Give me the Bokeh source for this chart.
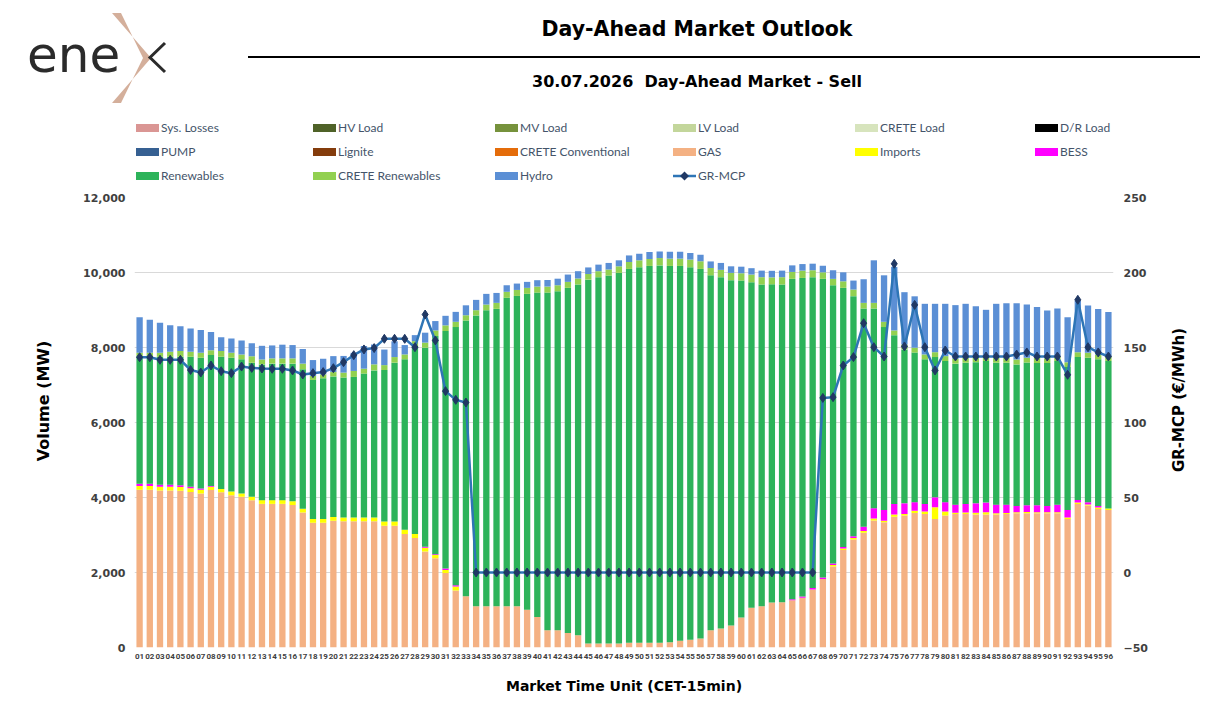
from bokeh.plotting import figure
from bokeh.models import (ColumnDataSource, FactorRange, Range1d, LinearAxis, FixedTicker,
                          NumeralTickFormatter, Div)
from bokeh.layouts import column, row
from bokeh.embed import file_html
from bokeh.resources import INLINE

# ---------------- data ----------------
mtu = ["%02d" % i for i in range(1, 97)]

sys_losses = [0] * 96
hv_load = [0] * 96
mv_load = [0] * 96
lv_load = [0] * 96
crete_load = [0] * 96
dr_load = [0] * 96
pump = [0] * 96
lignite = [0] * 96
crete_conv = [0] * 96

gas = [4210, 4210, 4190, 4190, 4180, 4150, 4110, 4200, 4140, 4060, 4020, 3930,
       3830, 3830, 3830, 3800, 3600, 3330, 3330, 3380, 3370, 3370, 3370, 3370,
       3250, 3250, 3030, 2920, 2560, 2380, 1990, 1520, 1365, 1100, 1100, 1100,
       1100, 1100, 1010, 815, 460, 460, 390, 330, 110, 110, 110, 110,
       125, 125, 125, 125, 140, 180, 210, 240, 460, 505, 590, 800,
       1060, 1100, 1200, 1210, 1260, 1330, 1550, 1830, 2160, 2600, 2880, 3060,
       3390, 3340, 3490, 3520, 3590, 3560, 3430, 3520, 3560, 3560, 3545, 3545,
       3545, 3560, 3580, 3580, 3580, 3580, 3580, 3430, 3830, 3785, 3695, 3670]

imports = [100, 100, 100, 100, 100, 100, 100, 90, 90, 100, 90, 90,
           100, 100, 100, 100, 100, 100, 100, 100, 100, 100, 100, 100,
           110, 110, 110, 110, 100, 90, 80, 110, 0, 0, 0, 0,
           0, 0, 0, 0, 0, 0, 0, 0, 0, 0, 0, 0,
           0, 0, 0, 0, 0, 0, 0, 0, 0, 0, 0, 0,
           0, 0, 0, 0, 0, 0, 0, 0, 40, 40, 40, 50,
           50, 40, 55, 40, 60, 70, 310, 110, 35, 40, 50, 60,
           35, 30, 30, 35, 30, 30, 30, 40, 40, 30, 40, 40]

bess = [60, 60, 50, 50, 50, 40, 30, 20, 0, 0, 0, 0,
        0, 0, 0, 0, 0, 0, 0, 0, 0, 0, 0, 0,
        0, 0, 0, 0, 30, 20, 40, 30, 0, 0, 0, 0,
        0, 0, 0, 0, 0, 0, 0, 0, 0, 0, 0, 0,
        0, 0, 0, 0, 0, 0, 0, 0, 0, 0, 0, 0,
        0, 0, 0, 0, 30, 30, 40, 40, 40, 40, 50, 110,
        275, 290, 285, 285, 225, 200, 265, 245, 215, 230, 250, 260,
        230, 220, 165, 180, 185, 165, 200, 200, 65, 60, 40, 0]

renewables = [3400, 3400, 3415, 3415, 3425, 3465, 3490, 3490, 3525, 3570, 3575, 3575,
              3620, 3640, 3640, 3670, 3720, 3705, 3750, 3750, 3730, 3745, 3835, 3920,
              4040, 4235, 4545, 5010, 5305, 5815, 6330, 6885, 7355, 7755, 7895, 7930,
              8225, 8275, 8420, 8650, 9005, 9040, 9200, 9350, 9700, 9765, 9810, 9880,
              9970, 10015, 10050, 10065, 10035, 9995, 9930, 9855, 9465, 9370, 9205, 8985,
              8680, 8580, 8485, 8470, 8540, 8495, 8285, 7960, 7420, 6910, 6400, 5820,
              5325, 4875, 4500, 4105, 3990, 3855, 3740, 3765, 3760, 3765, 3765, 3775,
              3785, 3785, 3775, 3805, 3795, 3810, 3830, 3810, 3810, 3855, 3910, 3930]

crete_ren = [90, 90, 105, 130, 150, 130, 130, 125, 150, 130, 130, 175,
             130, 140, 140, 140, 150, 105, 105, 115, 130, 160, 130, 160,
             130, 150, 130, 130, 135, 150, 150, 140, 140, 140, 150, 160,
             160, 160, 160, 160, 160, 160, 160, 160, 150, 160, 160, 175,
             185, 185, 185, 195, 195, 195, 205, 205, 195, 195, 195, 195,
             205, 195, 185, 195, 185, 195, 185, 175, 170, 175, 175, 150,
             150, 140, 125, 130, 130, 130, 130, 130, 130, 130, 130, 130,
             130, 130, 130, 130, 130, 130, 130, 130, 130, 130, 130, 130]

hydro = [950, 880, 800, 710, 665, 620, 610, 490, 370, 380, 370, 345,
         365, 345, 365, 355, 390, 425, 415, 425, 445, 485, 605, 530,
         415, 420, 250, 160, 265, 250, 255, 265, 265, 275, 285, 265,
         175, 170, 160, 170, 175, 175, 195, 195, 175, 175, 175, 160,
         175, 175, 185, 175, 185, 185, 175, 175, 175, 185, 175, 175,
         170, 175, 175, 175, 175, 175, 175, 175, 230, 240, 240, 630,
         1135, 1240, 1695, 1395, 1370, 1350, 1290, 1395, 1430, 1440, 1360, 1235,
         1440, 1455, 1500, 1420, 1360, 1270, 1270, 1200, 1375, 1260, 1215, 1175]

gr_mcp = [143.5, 143.5, 141.8, 141.8, 141.8, 135.0, 133.3, 138.0, 134.2, 132.9, 137.3, 136.4,
          136.0, 135.8, 135.8, 134.7, 132.0, 132.9, 133.6, 136.2, 140.2, 144.9, 148.7, 149.6,
          155.8, 155.8, 155.8, 150.2, 172.0, 154.7, 120.9, 115.1, 113.3, 0, 0, 0,
          0, 0, 0, 0, 0, 0, 0, 0, 0, 0, 0, 0,
          0, 0, 0, 0, 0, 0, 0, 0, 0, 0, 0, 0,
          0, 0, 0, 0, 0, 0, 0, 116.4, 116.9, 138.0, 143.6, 166.2,
          150.2, 144.0, 205.8, 150.7, 178.4, 150.2, 134.7, 148.0, 144.0, 144.0, 144.0, 144.0,
          144.0, 144.0, 145.3, 146.7, 144.0, 144.0, 144.0, 131.8, 181.8, 150.2, 146.7, 144.0]

series_names = ["Sys. Losses", "HV Load", "MV Load", "LV Load", "CRETE Load", "D/R Load",
                "PUMP", "Lignite", "CRETE Conventional", "GAS", "Imports", "BESS",
                "Renewables", "CRETE Renewables", "Hydro"]
series_keys = ["sys_losses", "hv_load", "mv_load", "lv_load", "crete_load", "dr_load",
               "pump", "lignite", "crete_conv", "gas", "imports", "bess",
               "renewables", "crete_ren", "hydro"]
series_colors = ["#DA9694", "#4F6228", "#76923C", "#C3D69B", "#D7E4BD", "#000000",
                 "#366092", "#843C0C", "#E46C0A", "#F4B183", "#FFFF00", "#FF00FF",
                 "#2DB35A", "#92D050", "#5B8FD5"]
price_name = "GR-MCP"
vol_ticks = [0, 2000, 4000, 6000, 8000, 10000, 12000]
price_ticks = [-50, 0, 50, 100, 150, 200, 250]

src = ColumnDataSource(data=dict(
    mtu=mtu, sys_losses=sys_losses, hv_load=hv_load, mv_load=mv_load, lv_load=lv_load,
    crete_load=crete_load, dr_load=dr_load, pump=pump, lignite=lignite, crete_conv=crete_conv,
    gas=gas, imports=imports, bess=bess, renewables=renewables, crete_ren=crete_ren,
    hydro=hydro, gr_mcp=gr_mcp))

LINE_C = "#2E75B6"
MARK_C = "#203864"
BOLD_FONT = "DejaVu Sans"

# ---------------- header (logo, title, rule, subtitle, legend) ----------------
HEAD_H = 190
leg_cols = [136, 313, 495, 673, 855, 1035]
leg_rows = [128, 152, 176]
leg_parts = []
for i, (name, col) in enumerate(zip(series_names, series_colors)):
    x = leg_cols[i % 6]
    y = leg_rows[i // 6]
    leg_parts.append(
        '<div style="position:absolute;left:%dpx;top:%dpx;width:23px;height:8px;'
        'background:%s;"></div>' % (x, y - 4, col))
    leg_parts.append(
        '<div style="position:absolute;left:%dpx;top:%dpx;line-height:16px;'
        'font-family:Lato,sans-serif;font-size:12px;color:#44546A;white-space:nowrap;">'
        '%s</div>' % (x + 25, y - 8, name))
i = len(series_names)
x = leg_cols[i % 6]
y = leg_rows[i // 6]
leg_parts.append(
    '<svg style="position:absolute;left:%dpx;top:%dpx;" width="24" height="12">'
    '<line x1="0" y1="6" x2="23" y2="6" stroke="%s" stroke-width="2.5"/>'
    '<polygon points="11.5,1.5 16,6 11.5,10.5 7,6" fill="%s"/></svg>'
    % (x, y - 6, LINE_C, MARK_C))
leg_parts.append(
    '<div style="position:absolute;left:%dpx;top:%dpx;line-height:16px;'
    'font-family:Lato,sans-serif;font-size:12px;color:#44546A;white-space:nowrap;">'
    '%s</div>' % (x + 25, y - 8, price_name))

header_html = """
<div style="position:relative;width:1229px;height:190px;overflow:hidden;
            font-family:'DejaVu Sans',sans-serif;color:#000;">
  <svg style="position:absolute;left:0;top:0;" width="200" height="107">
    <text x="27" y="72" font-family="Lato" font-size="50" fill="#2B2B2B">ene</text>
    <polygon points="112,13 151,58 112,103 121,103 143,58 121,13" fill="#D4AF9B"/>
    <polyline points="165,43 150,57.5 165,72" fill="none" stroke="#2B2B2B"
              stroke-width="3"/>
  </svg>
  <div style="position:absolute;left:0;top:17px;width:1394px;text-align:center;
              font-weight:bold;font-size:20.5px;line-height:24px;white-space:nowrap;">Day-Ahead Market Outlook</div>
  <div style="position:absolute;left:248px;top:56px;width:952px;height:2px;
              background:#000;"></div>
  <div style="position:absolute;left:0;top:72px;width:1394px;text-align:center;
              font-weight:bold;font-size:16px;line-height:20px;white-space:pre;">30.07.2026  Day-Ahead Market - Sell</div>
""" + "\n".join(leg_parts) + "\n</div>"

header = Div(text=header_html, width=1229, height=HEAD_H, margin=0)

# ---------------- side axis titles ----------------
BODY_H = 724 - HEAD_H
LEFT_W, RIGHT_W = 70, 60


def axis_title_div(text, w, cx, cy, fs):
    html = ('<div style="position:relative;width:%dpx;height:%dpx;">'
            '<div style="position:absolute;left:%dpx;top:%dpx;'
            'transform:translate(-50%%,-50%%) rotate(-90deg);white-space:nowrap;'
            "font-family:'DejaVu Sans',sans-serif;font-weight:bold;font-size:%s;"
            'line-height:18px;color:#000;">%s</div></div>') % (w, BODY_H, cx, cy, fs, text)
    return Div(text=html, width=w, height=BODY_H, margin=0)


left_title = axis_title_div("Volume (MW)", LEFT_W, 44, 401 - HEAD_H, "16px")
right_title = axis_title_div("GR-MCP (€/MWh)", RIGHT_W, 1179 - (1229 - RIGHT_W),
                             400 - HEAD_H, "15px")

# ---------------- main chart ----------------
PW = 1229 - LEFT_W - RIGHT_W
p = figure(width=PW, height=BODY_H, x_range=FactorRange(*mtu), y_range=Range1d(0, 12000),
           output_backend="svg", toolbar_location=None, min_border_left=134 - LEFT_W,
           min_border_right=(1229 - RIGHT_W) - 1113, min_border_top=7, min_border_bottom=77,
           outline_line_color=None, margin=0)
p.x_range.range_padding = 0

p.vbar_stack(series_keys, x="mtu", width=0.62, source=src,
             fill_color=series_colors, line_color=None)

p.extra_y_ranges = {"price": Range1d(-50, 250)}
p.line(x="mtu", y="gr_mcp", source=src, y_range_name="price", line_color=LINE_C,
       line_width=2.5)
p.scatter(x="mtu", y="gr_mcp", source=src, y_range_name="price", marker="diamond",
          size=9, fill_color=MARK_C, line_color=MARK_C)

ax_r = LinearAxis(y_range_name="price", ticker=FixedTicker(ticks=price_ticks))
p.add_layout(ax_r, "right")

p.yaxis[0].ticker = FixedTicker(ticks=vol_ticks)
p.yaxis[0].formatter = NumeralTickFormatter(format="0,0")
p.yaxis[0].major_label_standoff = 9
ax_r.major_label_standoff = 10

for ax in (p.yaxis[0], ax_r):
    ax.axis_line_color = None
    ax.major_tick_line_color = None
    ax.minor_tick_line_color = None
    ax.major_tick_out = 0
    ax.minor_tick_out = 0
    ax.major_label_text_font = BOLD_FONT
    ax.major_label_text_font_style = "bold"
    ax.major_label_text_font_size = "11px"
    ax.major_label_text_color = "#404040"

xa = p.xaxis[0]
xa.axis_line_color = None
xa.major_tick_line_color = None
xa.minor_tick_line_color = None
xa.major_tick_out = 0
xa.major_label_text_font = "Roboto"
xa.major_label_text_font_style = "bold"
xa.major_label_text_font_size = "8px"
xa.major_label_text_color = "#404040"
xa.major_label_standoff = 6
xa.axis_label = "Market Time Unit (CET-15min)"
xa.axis_label_standoff = 16
xa.axis_label_text_font = BOLD_FONT
xa.axis_label_text_font_style = "bold"
xa.axis_label_text_font_size = "14px"
xa.axis_label_text_color = "#000000"

p.xgrid.visible = False
p.ygrid.grid_line_color = "#D9D9D9"
p.ygrid.grid_line_width = 1

layout = column(header, row(left_title, p, right_title, spacing=0), spacing=0)
open("out.html", "w").write(file_html(layout, INLINE))
